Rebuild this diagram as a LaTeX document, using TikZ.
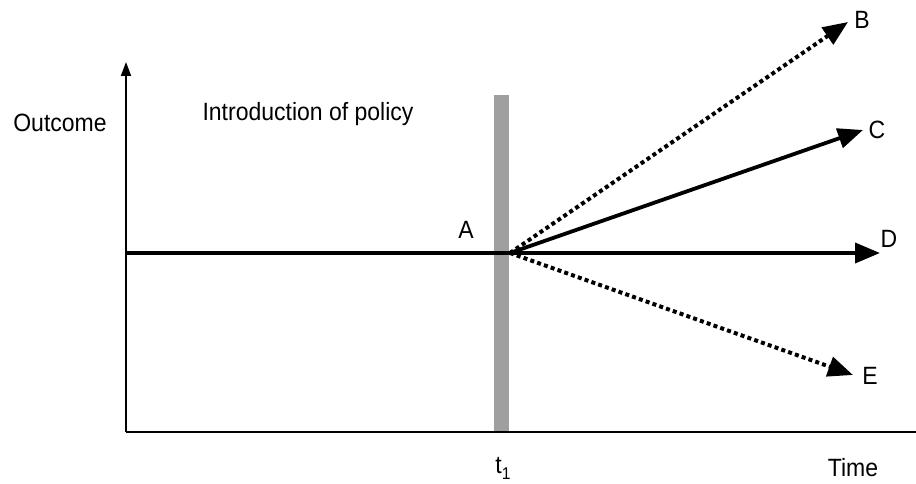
\documentclass[tikz,border=0pt]{standalone}
\usepackage{fontspec}
\setmainfont[FakeStretch=0.92]{Liberation Sans}
\usetikzlibrary{arrows.meta}
\begin{document}
\begin{tikzpicture}[x=1pt,y=-1pt,
  lbl/.style={font=\fontsize{25}{28}\selectfont, inner sep=0pt},
  axis/.style={line width=1.8pt, -{Triangle[length=14pt,width=10pt]}},
  solidarr/.style={line width=3.8pt, -{Triangle[length=25pt,width=20pt]}},
  dotarr/.style={line width=4pt, dash pattern=on 4pt off 3.2pt, -{Triangle[length=25pt,width=20pt]}}]
\useasboundingbox (0,0) rectangle (916,484);
\coordinate (O) at (126,432);
\coordinate (ytop) at (126,62);
\coordinate (xend) at (922,432);
\coordinate (P) at (510,253);
\coordinate (L) at (126,253);
\fill[gray!75] (494,95) rectangle (509,432);
\draw[axis] (O) -- (ytop);
\draw[line width=1.8pt] (O) -- (xend);
\draw[solidarr] (L) -- (880,253) coordinate (Dt);
\draw[solidarr] (P) -- (863,130) coordinate (Ct);
\draw[dotarr] (P) -- (848,22) coordinate (Bt);
\draw[dotarr] (P) -- (853,375) coordinate (Et);
\node[lbl] (B) at (862,20) {B};
\node[lbl] (C) at (877,130) {C};
\node[lbl] (D) at (889,239) {D};
\node[lbl] (E) at (870,376) {E};
\node[lbl] (A) at (466,230) {A};
\node[lbl] (out) at (60,123) {Outcome};
\node[lbl] (intro) at (308,114) {Introduction of policy};
\node[lbl] (t1) at (503,468) {t\raisebox{-6pt}{\fontsize{17}{20}\selectfont 1}};
\node[lbl] (time) at (853,468) {Time};
\end{tikzpicture}
\end{document}
